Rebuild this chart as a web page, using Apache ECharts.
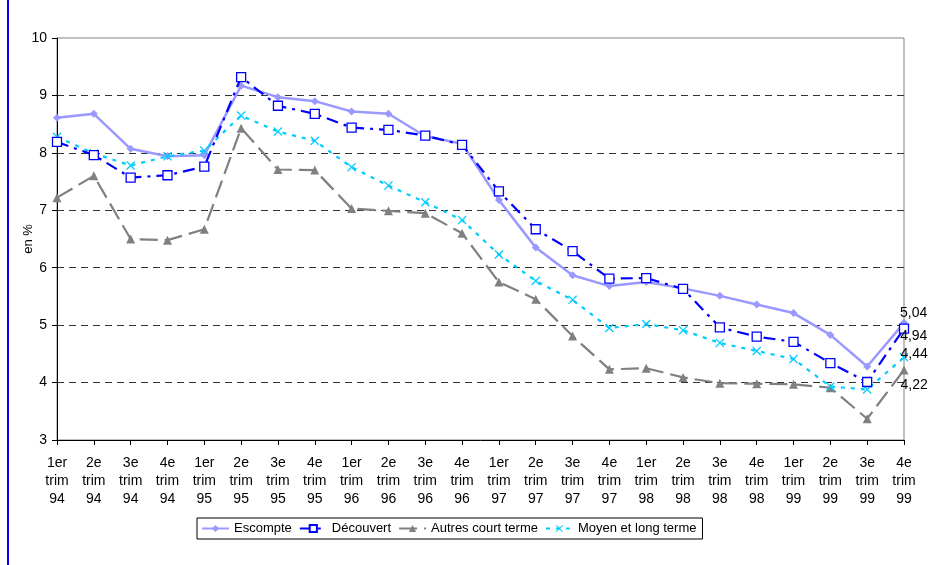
<!DOCTYPE html>
<html lang="fr">
<head>
  <meta charset="utf-8">
  <title>Taux d'intérêt 1994-1999</title>
</head>
<body style="margin: 0; width: 939px; height: 565px; background: #fff;">
  <div style="position: absolute; left: 7px; top: 0; width: 2px; height: 565px; background: #0000ff;"></div>
  <div id="container" style="position: absolute; left: 0; top: 0; width: 939px; height: 565px;"></div>

  <script type="text/javascript" src="https://fastly.jsdelivr.net/npm/echarts@6/dist/echarts.min.js"></script>
  <script type="text/javascript">
    // trimestres
    var categories = [
      '1er\ntrim\n94', '2e\ntrim\n94', '3e\ntrim\n94', '4e\ntrim\n94',
      '1er\ntrim\n95', '2e\ntrim\n95', '3e\ntrim\n95', '4e\ntrim\n95',
      '1er\ntrim\n96', '2e\ntrim\n96', '3e\ntrim\n96', '4e\ntrim\n96',
      '1er\ntrim\n97', '2e\ntrim\n97', '3e\ntrim\n97', '4e\ntrim\n97',
      '1er\ntrim\n98', '2e\ntrim\n98', '3e\ntrim\n98', '4e\ntrim\n98',
      '1er\ntrim\n99', '2e\ntrim\n99', '3e\ntrim\n99', '4e\ntrim\n99'
    ];
    var escompte = [8.61, 8.68, 8.07, 7.94, 7.96, 9.17, 8.97, 8.90, 8.72, 8.68, 8.29, 8.16,
      7.18, 6.35, 5.87, 5.68, 5.75, 5.64, 5.51, 5.36, 5.21, 4.83, 4.28, 5.04];
    var decouvert = [8.19, 7.96, 7.57, 7.61, 7.76, 9.32, 8.82, 8.68, 8.44, 8.40, 8.30, 8.14,
      7.33, 6.67, 6.29, 5.81, 5.82, 5.63, 4.96, 4.80, 4.71, 4.34, 4.01, 4.94];
    var autresCourt = [7.22, 7.60, 6.50, 6.48, 6.67, 8.43, 7.71, 7.70, 7.03, 6.99, 6.95, 6.60,
      5.75, 5.45, 4.81, 4.23, 4.25, 4.09, 3.99, 3.98, 3.97, 3.91, 3.37, 4.22];
    var moyenLong = [8.28, 7.99, 7.78, 7.94, 8.04, 8.65, 8.37, 8.21, 7.75, 7.43, 7.14, 6.83,
      6.23, 5.77, 5.44, 4.95, 5.02, 4.91, 4.69, 4.55, 4.41, 3.93, 3.88, 4.44];
    var yTicks = [3, 4, 5, 6, 7, 8, 9, 10];

    var font = 'Liberation Sans, Arial, sans-serif';

    // seule la dernière valeur porte une étiquette
    function withLastLabel(values, offset) {
      return values.map(function (v, i) {
        if (i !== values.length - 1) return v;
        return {
          value: v,
          label: {
            show: true,
            position: 'right',
            distance: 0,
            offset: offset,
            color: '#000',
            fontSize: 14,
            fontFamily: font,
            formatter: function (p) { return p.value.toFixed(2).replace('.', ','); }
          }
        };
      });
    }

    var myChart = echarts.init(document.getElementById('container'), null, { renderer: 'canvas' });

    var option = {
      animation: false,
      textStyle: { fontFamily: font },
      grid: {
        left: 57, right: 35, top: 38, bottom: 125,
        show: true, borderColor: '#808080', borderWidth: 1
      },
      legend: {
        left: 197, top: 518,
        padding: [4, 6, 4, 4],
        borderColor: '#000', borderWidth: 1,
        itemWidth: 27, itemHeight: 9, itemGap: 7,
        textStyle: { fontSize: 13, color: '#000', fontFamily: font },
        data: ['Escompte', 'Découvert', 'Autres court terme', 'Moyen et long terme']
      },
      xAxis: {
        type: 'category',
        boundaryGap: false,
        data: categories,
        axisLine: { lineStyle: { color: '#000', width: 1 } },
        axisTick: { show: true, length: 5, lineStyle: { color: '#000' } },
        axisLabel: {
          interval: 0, color: '#000', fontSize: 14, lineHeight: 18,
          margin: 14, fontFamily: font
        }
      },
      yAxis: {
        type: 'value',
        min: yTicks[0],
        max: yTicks[yTicks.length - 1],
        interval: 1,
        name: 'en %',
        nameLocation: 'middle',
        nameGap: 22,
        nameMoveOverlap: false,
        nameTextStyle: { fontSize: 13, color: '#000', fontFamily: font },
        axisLine: { show: true, lineStyle: { color: '#000', width: 1 } },
        axisTick: { show: true, length: 5, lineStyle: { color: '#000' } },
        axisLabel: { color: '#000', fontSize: 14, margin: 10, fontFamily: font },
        splitLine: {
          show: true,
          showMinLine: false,
          showMaxLine: false,
          lineStyle: { color: '#333', type: [7, 5], width: 1 }
        }
      },
      series: [
        {
          name: 'Escompte',
          type: 'line',
          data: withLastLabel(escompte, [-8, -10]),
          symbol: 'diamond',
          symbolSize: 8,
          itemStyle: { color: '#9999ff' },
          lineStyle: { color: '#9999ff', width: 2.5, type: 'solid' },
          z: 2
        },
        {
          name: 'Découvert',
          type: 'line',
          data: withLastLabel(decouvert, [-9, 8]),
          symbol: 'rect',
          symbolSize: 9,
          itemStyle: { color: '#fff', borderColor: '#0000ff', borderWidth: 1.3 },
          lineStyle: { color: '#0000ff', width: 2.2, type: [12, 6, 3, 6] },
          z: 4
        },
        {
          name: 'Autres court terme',
          type: 'line',
          data: withLastLabel(autresCourt, [-8, 15]),
          symbol: 'triangle',
          symbolSize: 9,
          itemStyle: { color: '#808080' },
          lineStyle: { color: '#808080', width: 2.2, type: [18, 7] },
          z: 1
        },
        {
          name: 'Moyen et long terme',
          type: 'line',
          data: withLastLabel(moyenLong, [-8, -3]),
          symbol: 'path://M0,1L1,0L5,4L9,0L10,1L6,5L10,9L9,10L5,6L1,10L0,9L4,5Z',
          symbolSize: 9,
          itemStyle: { color: '#00ccff' },
          lineStyle: { color: '#00ccff', width: 2.2, type: [4, 6] },
          z: 3
        }
      ]
    };

    myChart.setOption(option);
    window.addEventListener('resize', myChart.resize);
  </script>
</body>
</html>
